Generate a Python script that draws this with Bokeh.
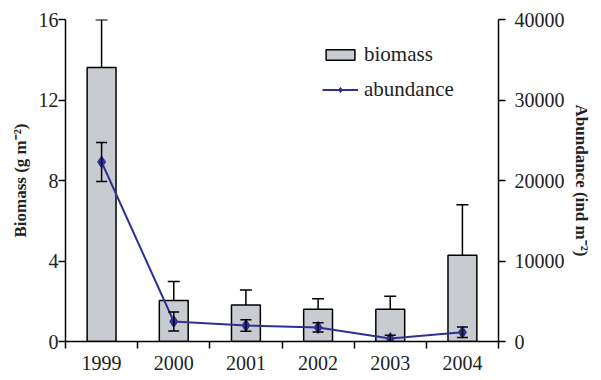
from bokeh.plotting import figure
from bokeh.models import (LinearAxis, Range1d, FixedTicker, Whisker, TeeHead,
                          ColumnDataSource, Legend, LegendItem)
from bokeh.embed import file_html
from bokeh.resources import INLINE

years = ["1999", "2000", "2001", "2002", "2003", "2004"]
biomass = [13.62, 2.04, 1.81, 1.60, 1.60, 4.29]
biomass_err = [2.37, 0.94, 0.75, 0.52, 0.65, 2.51]
abundance = [22300, 2480, 1990, 1750, 370, 1140]
abundance_err = [2430, 1190, 715, 570, 400, 650]

xs = [i + 0.5 for i in range(len(years))]

FONT = "Liberation Serif"
BAR_FILL = "#c8cbd0"
LINE_C = "#2e3192"

p = figure(width=593, height=372, x_range=Range1d(0, 6), y_range=Range1d(0, 16),
           output_backend="svg", toolbar_location=None,
           min_border_left=65, min_border_right=92, min_border_top=19, min_border_bottom=30)
p.outline_line_color = None
p.xgrid.visible = False
p.ygrid.visible = False
p.background_fill_color = "white"
p.border_fill_color = "white"
p.extra_y_ranges = {"abund": Range1d(0, 40000)}

bsrc = ColumnDataSource(dict(x=xs, top=biomass,
                             hi=[b + e for b, e in zip(biomass, biomass_err)]))
asrc = ColumnDataSource(dict(x=xs, y=abundance,
                             lo=[a - e for a, e in zip(abundance, abundance_err)],
                             hi=[a + e for a, e in zip(abundance, abundance_err)]))

bars = p.vbar(x="x", top="top", width=0.4, bottom=0, source=bsrc,
              fill_color=BAR_FILL, line_color="black", line_width=1.5)
p.add_layout(Whisker(base="x", lower="top", upper="hi", source=bsrc,
                     line_color="black", line_width=1.5,
                     upper_head=TeeHead(size=12, line_color="black", line_width=1.5),
                     lower_head=None))

line = p.line(x="x", y="y", source=asrc, y_range_name="abund",
              line_color=LINE_C, line_width=2)
pts = p.scatter(x="x", y="y", source=asrc, y_range_name="abund", marker="diamond",
                size=12, fill_color=LINE_C, line_color=LINE_C)
# abundance error bars
p.segment(x0="x", y0="lo", x1="x", y1="hi", source=asrc, y_range_name="abund",
          line_color="black", line_width=1.5)
p.scatter(x="x", y="lo", source=asrc, y_range_name="abund", marker="dash",
          size=11, line_color="black", line_width=1.5)
p.scatter(x="x", y="hi", source=asrc, y_range_name="abund", marker="dash",
          size=11, line_color="black", line_width=1.5)

def style_axis(ax):
    ax.axis_line_color = "black"
    ax.axis_line_width = 1.5
    ax.major_tick_line_color = "black"
    ax.major_tick_line_width = 1.5
    ax.minor_tick_line_color = None
    ax.major_tick_in = 0
    ax.major_tick_out = 7
    ax.major_label_text_font = FONT
    ax.major_label_text_font_size = "20px"
    ax.major_label_text_color = "#222222"
    ax.axis_label_text_font = FONT
    ax.axis_label_text_font_size = "17px"
    ax.axis_label_text_font_style = "bold"
    ax.axis_label_text_color = "#222222"

# bottom axis
xa = p.xaxis[0]
style_axis(xa)
xa.ticker = FixedTicker(ticks=xs, minor_ticks=list(range(len(years) + 1)))
xa.major_label_overrides = {x: y for x, y in zip(xs, years)}
xa.major_tick_out = 0
xa.minor_tick_line_color = "black"
xa.minor_tick_line_width = 1.5
xa.minor_tick_in = 0
xa.minor_tick_out = 7
xa.major_label_standoff = 7

# left axis
ya = p.yaxis[0]
style_axis(ya)
ya.ticker = FixedTicker(ticks=[0, 4, 8, 12, 16])
ya.axis_label = "Biomass (g m\u207b\u00b2)"
ya.major_label_standoff = 0
ya.axis_label_standoff = 6

# right axis
ra = LinearAxis(y_range_name="abund", ticker=FixedTicker(ticks=[0, 10000, 20000, 30000, 40000]),
                axis_label="Abundance (ind m\u207b\u00b2)")
style_axis(ra)
ra.major_label_standoff = 9
ra.axis_label_standoff = 4
p.add_layout(ra, "right")

legend = Legend(items=[LegendItem(label="biomass", renderers=[bars]),
                       LegendItem(label="abundance", renderers=[line, pts])],
                location=(257, 239), orientation="vertical",
                glyph_width=36, glyph_height=13, label_standoff=6, spacing=10,
                padding=0, margin=0, border_line_color=None, background_fill_alpha=0,
                label_text_font=FONT, label_text_font_size="21px",
                label_text_color="#222222", label_height=20)
p.add_layout(legend)

open("out.html", "w").write(file_html(p, INLINE))
